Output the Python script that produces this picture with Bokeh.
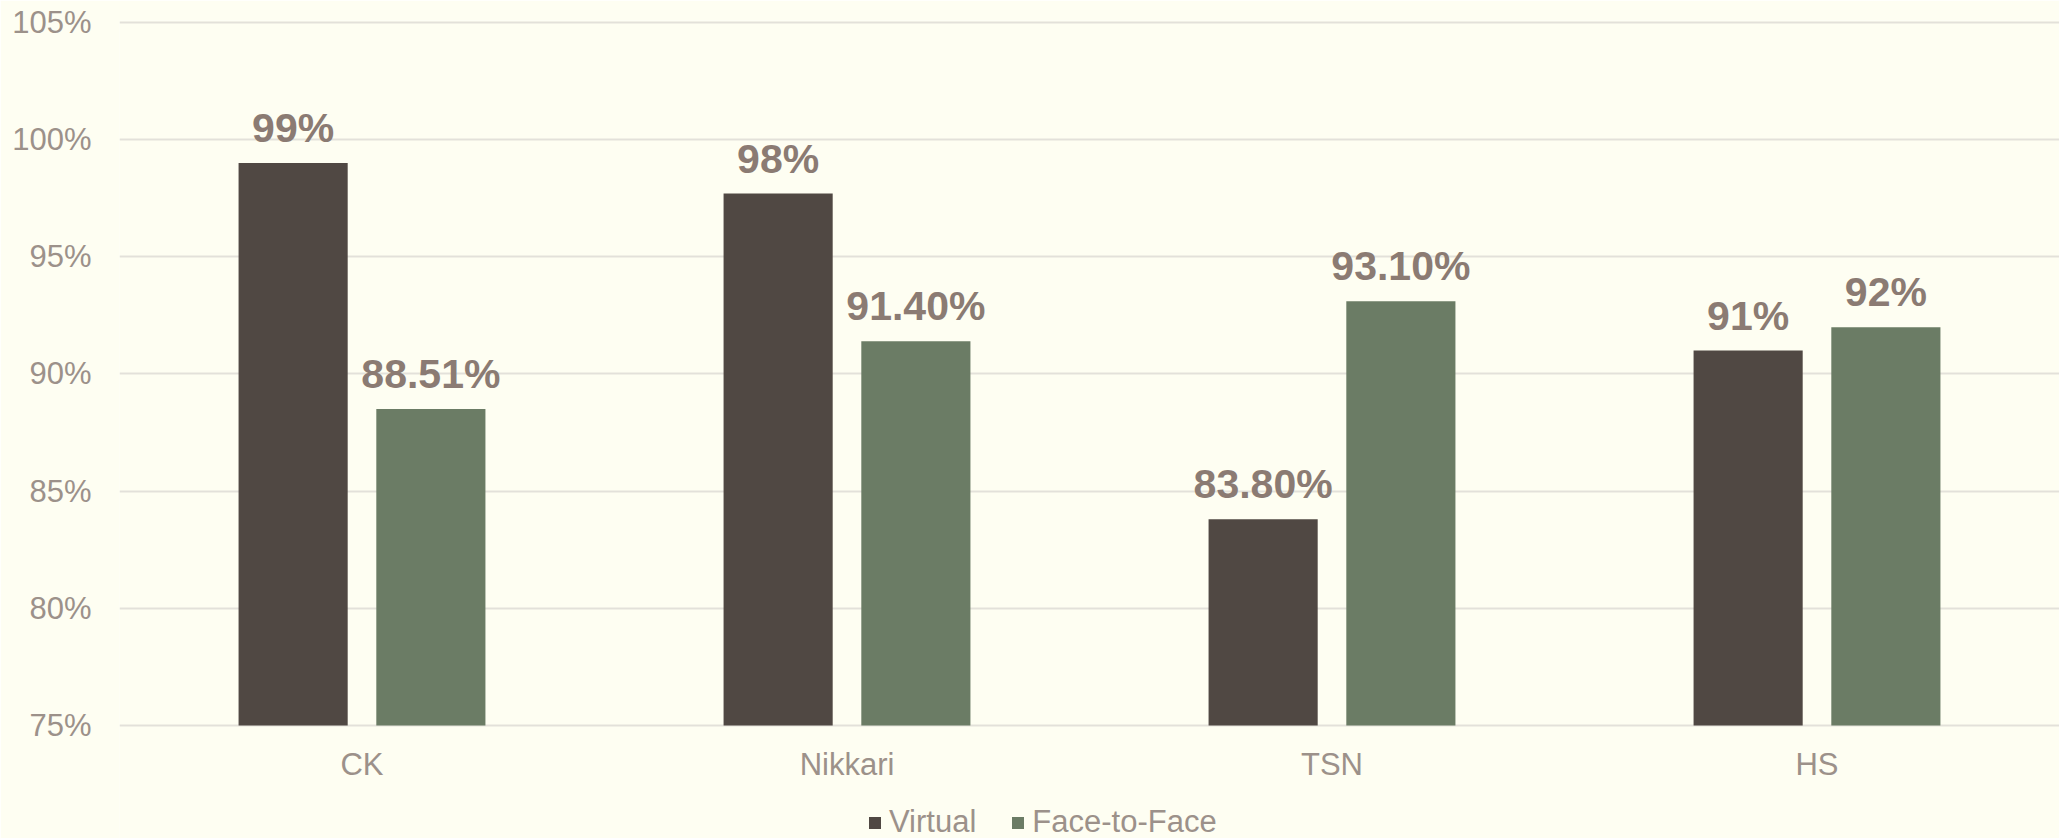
from bokeh.plotting import figure
from bokeh.models import (ColumnDataSource, FactorRange, Range1d, FixedTicker,
                          PrintfTickFormatter, LabelSet, Legend, LegendItem)
from bokeh.core.properties import value
from bokeh.transform import dodge
from bokeh.embed import file_html
from bokeh.resources import INLINE

categories = ["CK", "Nikkari", "TSN", "HS"]
virtual = [99.0, 97.7, 83.8, 91.0]
face_to_face = [88.51, 91.4, 93.1, 92.0]
virtual_labels = ["99%", "98%", "83.80%", "91%"]
face_labels = ["88.51%", "91.40%", "93.10%", "92%"]
y_ticks = [75, 80, 85, 90, 95, 100, 105]

BG = "#FEFEF2"
DARK = "#504843"
GREEN = "#6B7C65"
LABEL = "#8B7B73"
TICK = "#9C918A"
GRID = "#E3E1DA"
FONT = "Liberation Sans"
BASE = 75

src = ColumnDataSource(dict(cat=categories, virtual=virtual, face=face_to_face,
                            vlab=virtual_labels, flab=face_labels,
                            base=[BASE] * len(categories)))

p = figure(x_range=FactorRange(*categories, range_padding=0), y_range=Range1d(70.178, 105.085),
           width=2059, height=838, output_backend="svg", toolbar_location=None,
           x_axis_location=None,
           background_fill_color=BG, border_fill_color=BG, outline_line_color=None,
           min_border_left=119, min_border_right=0, min_border_top=20, min_border_bottom=0)

rv = p.vbar(x=dodge("cat", -0.142, range=p.x_range), top="virtual", bottom=BASE, width=0.225,
            source=src, fill_color=DARK, line_color=None)
rf = p.vbar(x=dodge("cat", 0.142, range=p.x_range), top="face", bottom=BASE, width=0.225,
            source=src, fill_color=GREEN, line_color=None)

for col, lab, off in (("virtual", "vlab", -0.142), ("face", "flab", 0.142)):
    p.add_layout(LabelSet(x=dodge("cat", off, range=p.x_range), y=col, text=lab, source=src,
                          text_align="center", text_baseline="alphabetic", y_offset=21,
                          text_font=value(FONT), text_font_size="41px", text_font_style="bold",
                          text_color=LABEL))

# category labels under the baseline
p.add_layout(LabelSet(x="cat", y="base", text="cat", source=src,
                      text_align="center", text_baseline="alphabetic", y_offset=-49,
                      text_font=value(FONT), text_font_size="31px", text_color=TICK))

p.yaxis.ticker = FixedTicker(ticks=y_ticks)
p.yaxis.formatter = PrintfTickFormatter(format="%d%%")
p.yaxis.axis_line_color = None
p.yaxis.major_tick_line_color = None
p.yaxis.major_tick_out = 0
p.yaxis.minor_tick_line_color = None
p.yaxis.major_label_standoff = 28
p.yaxis.major_label_text_font = FONT
p.yaxis.major_label_text_font_size = "31px"
p.yaxis.major_label_text_color = TICK

p.xgrid.grid_line_color = None
p.ygrid.grid_line_color = GRID
p.ygrid.grid_line_width = 2

legend = Legend(items=[LegendItem(label="Virtual", renderers=[rv]),
                       LegendItem(label="Face-to-Face", renderers=[rf])],
                location=(748, -2), orientation="horizontal",
                glyph_width=15, glyph_height=15, label_standoff=7, spacing=34,
                padding=0, margin=0, border_line_color=None, background_fill_alpha=0,
                label_text_font=FONT, label_text_font_size="31px", label_text_color=TICK)
p.add_layout(legend, "center")

open("out.html", "w").write(file_html(p, INLINE))
